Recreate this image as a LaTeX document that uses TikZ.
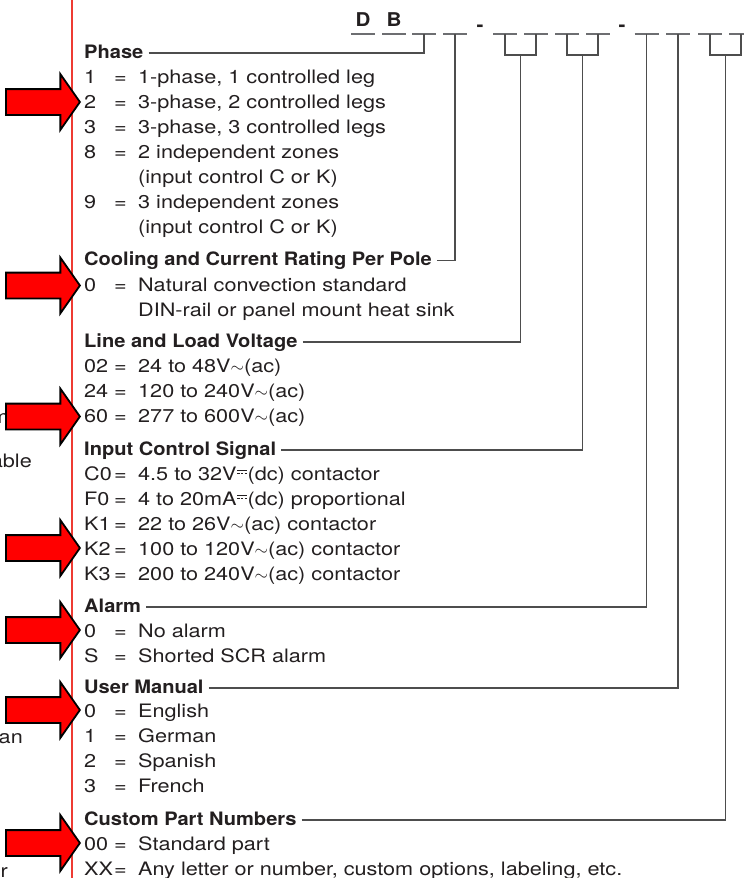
\documentclass[tikz,border=0pt]{standalone}
\usepackage{fontspec}
\setmainfont{TeX Gyre Heros}[FakeStretch=1.17]
\newfontfamily\headfont{TeX Gyre Heros}[FakeStretch=1.085]
\usetikzlibrary{positioning,shapes.arrows}
\definecolor{InkGray}{HTML}{231F20}
\definecolor{LeaderGray}{HTML}{4D4D4D}
\definecolor{SlotGray}{HTML}{6D6E71}
\definecolor{MarginRed}{HTML}{EE3B33}
\definecolor{PointerRed}{HTML}{FF0000}
\newenvironment{codelist}{\begin{tabular}[t]{@{}p{30pt}@{}p{24pt}@{}l@{}}}{\end{tabular}}
\newcommand\dcsym{\makebox[11pt]{\rlap{\raisebox{10pt}{\rule{10pt}{0.9pt}}}\raisebox{6.8pt}{\rule{2.6pt}{0.9pt}\hspace{1.1pt}\rule{2.6pt}{0.9pt}\hspace{1.1pt}\rule{2.6pt}{0.9pt}}}}
\newcommand\acsym{$\sim$}

\begin{document}
\begin{tikzpicture}[
  x=1pt, y=-1pt,
  slotmark/.style={inner sep=0pt, text=SlotGray},
  lead/.style={draw=LeaderGray, line width=1.2pt},
  sectionhead/.style={anchor=base west, inner sep=0pt, text=InkGray,
    font=\headfont\bfseries\fontsize{18.5}{25}\selectfont},
  itemlist/.style={anchor=base west, inner sep=0pt, text=InkGray,
    font=\fontsize{18.5}{25}\selectfont},
  codeletter/.style={anchor=base, inner sep=0pt, text=InkGray,
    font=\headfont\bfseries\fontsize{19}{22}\selectfont},
  pointer/.style={single arrow, draw=black, line width=1.8pt, fill=PointerRed,
    inner sep=12pt, minimum height=74pt, single arrow head extend=15pt,
    single arrow tip angle=110, anchor=tip},
  clipped/.style={anchor=base east, inner sep=0pt, text=InkGray,
    font=\fontsize{18.5}{25}\selectfont}
]
\useasboundingbox (0,0) rectangle (744,878);
\clip (0,0) rectangle (744,878);

% part number slots
\node[slotmark] (s1) at (363,34) {\rule{24pt}{1.2pt}};
\node[slotmark] (s2) at (394,34) {\rule{24pt}{1.2pt}};
\node[slotmark] (s3) at (424,34) {\rule{24pt}{1.2pt}};
\node[slotmark] (s4) at (455,34) {\rule{24pt}{1.2pt}};
\node[slotmark] (s5) at (505,34) {\rule{24pt}{1.2pt}};
\node[slotmark] (s6) at (536,34) {\rule{24pt}{1.2pt}};
\node[slotmark] (s7) at (567,34) {\rule{24pt}{1.2pt}};
\node[slotmark] (s8) at (598,34) {\rule{24pt}{1.2pt}};
\node[slotmark] (s9) at (646.5,34) {\rule{24pt}{1.2pt}};
\node[slotmark] (s10) at (678,34) {\rule{24pt}{1.2pt}};
\node[slotmark] (s11) at (710,34) {\rule{24pt}{1.2pt}};
\node[slotmark] (s12) at (741,34) {\rule{24pt}{1.2pt}};
\node[codeletter] (letterD) at ([yshift=7pt]s1.center) {D};
\node[codeletter] (letterB) at ([yshift=7pt]s2.center) {B};
\node[codeletter] (dash1) at (480,31) {-};
\node[codeletter] (dash2) at (622,31) {-};

% sections
\node[sectionhead] (phase) at (84,58) {Phase};
\node[itemlist] (phaselist) at ([yshift=-25.5pt]phase.base west) {\begin{codelist}
1 & = & 1-phase, 1 controlled leg\\
2 & = & 3-phase, 2 controlled legs\\
3 & = & 3-phase, 3 controlled legs\\
8 & = & 2 independent zones\\
 & & (input control C or K)\\
9 & = & 3 independent zones\\
 & & (input control C or K)
\end{codelist}};
\node[sectionhead] (cooling) at (84,265.5) {Cooling and Current Rating Per Pole};
\node[itemlist] (coolinglist) at ([yshift=-25.5pt]cooling.base west) {\begin{codelist}
0 & = & Natural convection standard\\
 & & DIN-rail or panel mount heat sink
\end{codelist}};
\node[sectionhead] (voltage) at (84,347) {Line and Load Voltage};
\node[itemlist] (voltagelist) at ([yshift=-25.5pt]voltage.base west) {\begin{codelist}
02 & = & 24 to 48V\acsym(ac)\\
24 & = & 120 to 240V\acsym(ac)\\
60 & = & 277 to 600V\acsym(ac)
\end{codelist}};
\node[sectionhead] (input) at (84,455) {Input Control Signal};
\node[itemlist] (inputlist) at ([yshift=-25.5pt]input.base west) {\begin{codelist}
C0 & = & 4.5 to 32V\dcsym(dc) contactor\\
F0 & = & 4 to 20mA\dcsym(dc) proportional\\
K1 & = & 22 to 26V\acsym(ac) contactor\\
K2 & = & 100 to 120V\acsym(ac) contactor\\
K3 & = & 200 to 240V\acsym(ac) contactor
\end{codelist}};
\node[sectionhead] (alarm) at (84,612) {Alarm};
\node[itemlist] (alarmlist) at ([yshift=-25pt]alarm.base west) {\begin{codelist}
0 & = & No alarm\\
S & = & Shorted SCR alarm
\end{codelist}};
\node[sectionhead] (manual) at (84,693) {User Manual};
\node[itemlist] (manuallist) at ([yshift=-24.5pt]manual.base west) {\begin{codelist}
0 & = & English\\
1 & = & German\\
2 & = & Spanish\\
3 & = & French
\end{codelist}};
\node[sectionhead] (custom) at (84,825) {Custom Part Numbers};
\node[itemlist] (customlist) at ([yshift=-25pt]custom.base west) {\begin{codelist}
00 & = & Standard part\\
XX & = & Any letter or number, custom options, labeling, etc.
\end{codelist}};

% leaders to the slots
\coordinate (pairvolt) at (520.5,55);
\coordinate (pairinput) at (582.5,55);
\coordinate (pairpart) at (725.5,55);
\draw[lead] (s5.center) |- (pairvolt) -| (s6.center);
\draw[lead] (s7.center) |- (pairinput) -| (s8.center);
\draw[lead] (s11.center) |- (pairpart) -| (s12.center);
\draw[lead] ([xshift=5pt,yshift=5pt]phase.base east) -| (s3.center);
\draw[lead] ([xshift=5pt,yshift=5pt]cooling.base east) -| (s4.center);
\draw[lead] ([xshift=5pt,yshift=5pt]voltage.base east) -| (pairvolt);
\draw[lead] ([xshift=5pt,yshift=5pt]input.base east) -| (pairinput);
\draw[lead] ([xshift=5pt,yshift=5pt]alarm.base east) -| (s9.center);
\draw[lead] ([xshift=5pt,yshift=5pt]manual.base east) -| (s10.center);
\draw[lead] ([xshift=5pt,yshift=5pt]custom.base east) -| (pairpart);

% margin rule and cut-off neighbour column
\draw[MarginRed, line width=1.6pt] (72,0) -- (72,878);
\node[clipped] (cutm) at (9,423) {m};
\node[clipped] (cutable) at (32,467) {able};
\node[clipped] (cutan) at (23,743) {an};
\node[clipped] (cutr) at (8,877) {r};

% red pointers
\node[pointer] (markphase) at (81,102) {};
\node[pointer] (markcooling) at (81,285.5) {};
\node[pointer] (markvoltage) at (81,416.5) {};
\node[pointer] (markinput) at (81,548) {};
\node[pointer] (markalarm) at (81,630) {};
\node[pointer] (markmanual) at (81,710) {};
\node[pointer] (markcustom) at (81,843) {};
\end{tikzpicture}
\end{document}
